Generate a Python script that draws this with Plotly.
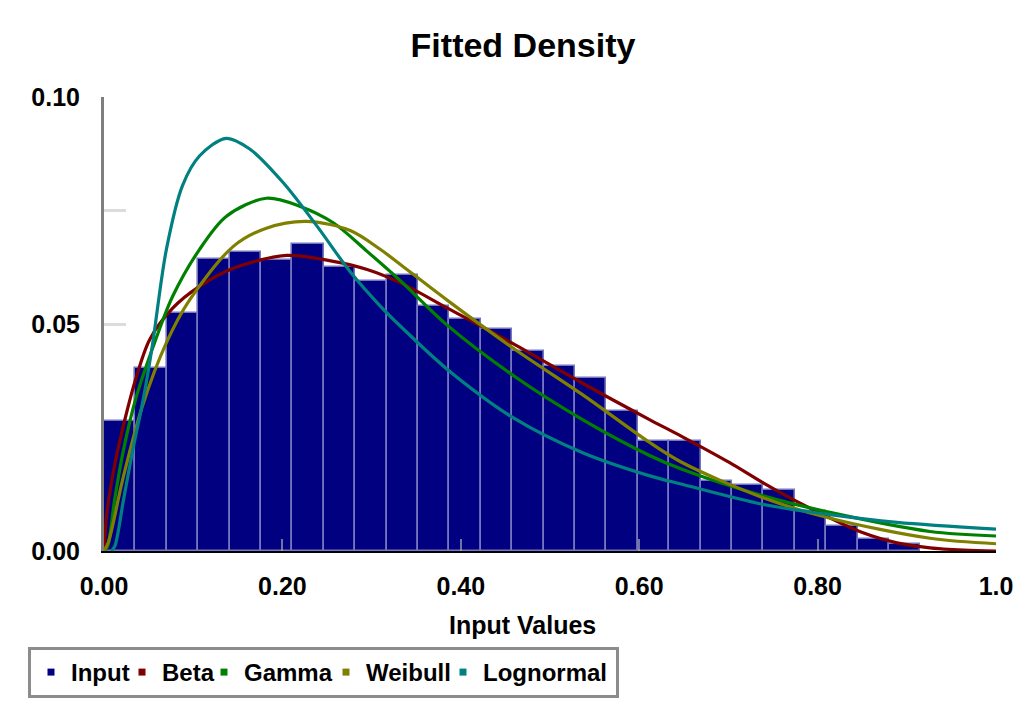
import numpy as np
import plotly.graph_objects as go

# ---------------- data ----------------
bin_width = 0.0352
input_freq = [0.0286, 0.0404, 0.0525, 0.0644, 0.0658, 0.0640, 0.0677, 0.0626, 0.0594, 0.0609,
              0.0539, 0.0512, 0.0490, 0.0440, 0.0407, 0.0382, 0.0308, 0.0242, 0.0242, 0.0155,
              0.0145, 0.0134, 0.0089, 0.0056, 0.0026, 0.0015]

beta_x = [0.000, 0.003, 0.007, 0.012, 0.018, 0.026, 0.035, 0.051, 0.077, 0.107, 0.145, 0.205,
          0.257, 0.295, 0.333, 0.385, 0.460, 0.536, 0.611, 0.648, 0.701, 0.739, 0.776, 0.851,
          0.889, 0.926, 0.964, 1.000]
beta_y = [0.0000, 0.0080, 0.0135, 0.0190, 0.0245, 0.0310, 0.0375, 0.0465, 0.0535, 0.0583, 0.0623,
          0.0651, 0.0638, 0.0620, 0.0590, 0.0535, 0.0455, 0.0370, 0.0290, 0.0252, 0.0195, 0.0150,
          0.0110, 0.0040, 0.0018, 0.0007, 0.0002, 0.0000]

gamma_x = [0.000, 0.004, 0.012, 0.022, 0.036, 0.058, 0.077, 0.107, 0.137, 0.182, 0.220, 0.257,
           0.295, 0.333, 0.385, 0.460, 0.536, 0.611, 0.648, 0.738, 0.814, 0.926, 1.000]
gamma_y = [0.0000, 0.0010, 0.0114, 0.0224, 0.0338, 0.0466, 0.0561, 0.0664, 0.0737, 0.0777, 0.0759,
           0.0723, 0.0660, 0.0594, 0.0497, 0.0385, 0.0290, 0.0211, 0.0180, 0.0122, 0.0085, 0.0043,
           0.0033]

weibull_x = [0.000, 0.005, 0.021, 0.043, 0.070, 0.096, 0.145, 0.182, 0.227, 0.276, 0.310, 0.333,
             0.385, 0.460, 0.536, 0.611, 0.648, 0.738, 0.814, 0.926, 1.000]
weibull_y = [0.0000, 0.0020, 0.0158, 0.0319, 0.0459, 0.0553, 0.0671, 0.0711, 0.0726, 0.0706, 0.0664,
             0.0630, 0.0552, 0.0445, 0.0345, 0.0240, 0.0195, 0.0118, 0.0072, 0.0028, 0.0016]

lognormal_x = [0.008, 0.012, 0.022, 0.033, 0.044, 0.054, 0.070, 0.088, 0.107, 0.137, 0.163, 0.201,
               0.239, 0.276, 0.310, 0.333, 0.385, 0.460, 0.536, 0.611, 0.648, 0.738, 0.814, 0.889,
               1.000]
lognormal_y = [0.0000, 0.0010, 0.0114, 0.0230, 0.0334, 0.0450, 0.0665, 0.0805, 0.0870, 0.0909, 0.0886,
               0.0811, 0.0715, 0.0615, 0.0539, 0.0494, 0.0400, 0.0292, 0.0217, 0.0166, 0.0147, 0.0103,
               0.0080, 0.0063, 0.0048]

x_tickvals = [0.0, 0.2, 0.4, 0.6, 0.8, 1.0]
x_ticktext = ["0.00", "0.20", "0.40", "0.60", "0.80", "1.0"]
y_tickvals = [0.0, 0.05, 0.10]
y_ticktext = ["0.00", "0.05", "0.10"]

series_names = ["Input", "Beta", "Gamma", "Weibull", "Lognormal"]
colors = {"Input": "#000080", "Beta": "#800000", "Gamma": "#008000",
          "Weibull": "#808000", "Lognormal": "#008080"}

FONT = "Liberation Sans, Arial, sans-serif"

# ---------------- figure ----------------
bin_centers = bin_width * (np.arange(len(input_freq)) + 0.5)

fig = go.Figure()
fig.add_trace(go.Bar(
    x=bin_centers, y=input_freq, width=bin_width,
    marker=dict(color=colors["Input"], line=dict(color="#7676c0", width=1.6)),
    showlegend=False, name="Input"))

curves = [("Beta", beta_x, beta_y), ("Gamma", gamma_x, gamma_y),
          ("Weibull", weibull_x, weibull_y), ("Lognormal", lognormal_x, lognormal_y)]
for name, xs, ys in curves:
    fig.add_trace(go.Scatter(
        x=xs, y=ys, mode="lines", name=name, showlegend=False,
        line=dict(color=colors[name], width=3.2, shape="spline", smoothing=0.9)))

# legend entries (small squares)
legend_widths = {"Input": 46, "Beta": 37, "Gamma": 77, "Weibull": 72, "Lognormal": 128}
for name in series_names:
    fig.add_trace(go.Scatter(
        x=[None], y=[None], mode="markers", name=name,
        marker=dict(symbol="square", size=7, color=colors[name], line=dict(width=0)),
        legendwidth=legend_widths[name], showlegend=True))

fig.update_layout(
    width=1028, height=709,
    margin=dict(l=104, r=32, t=97, b=157, pad=0),
    paper_bgcolor="white", plot_bgcolor="white",
    bargap=0,
    font=dict(family=FONT, size=24, color="black", weight="bold"),
    title=dict(text="Fitted Density", x=523 / 1028, xref="container", xanchor="center",
               y=1 - 45 / 709, yref="container", yanchor="middle",
               font=dict(family=FONT, size=34, color="black", weight="bold")),
    legend=dict(orientation="h", x=(28 - 104) / 892, xanchor="left",
                y=(552 - 647) / 455, yanchor="top",
                bordercolor="#8c8c8c", borderwidth=3, bgcolor="white",
                font=dict(family=FONT, size=24, color="black", weight="bold"),
                itemwidth=30, traceorder="normal"),
    xaxis=dict(range=[0, 1.0], tickvals=x_tickvals, ticktext=x_ticktext,
               showgrid=False, zeroline=False, showline=True, linecolor="black", linewidth=2,
               ticks="inside", ticklen=12, tickwidth=2, tickcolor="rgba(190,190,190,0.6)",
               ticklabelstandoff=12, layer="above traces",
               tickfont=dict(family=FONT, size=25, color="black", weight="bold")),
    yaxis=dict(range=[0, 0.1], tickvals=y_tickvals, ticktext=y_ticktext,
               showgrid=False, zeroline=False, showline=True, linecolor="#7f7f7f", linewidth=3,
               ticks="inside", ticklen=22, tickwidth=3, tickcolor="#dcdcdc",
               minor=dict(tickvals=[0.025, 0.075], ticks="inside", ticklen=22, tickwidth=3,
                          tickcolor="#dcdcdc", showgrid=False),
               ticklabelstandoff=16, layer="below traces",
               tickfont=dict(family=FONT, size=25, color="black", weight="bold")),
    annotations=[dict(text="Input Values", xref="paper", yref="paper",
                      x=(522 - 104) / 892, y=(552 - 626) / 455, xanchor="center", yanchor="middle",
                      showarrow=False,
                      font=dict(family=FONT, size=25, color="black", weight="bold"))],
)

fig.write_html("out.html")
